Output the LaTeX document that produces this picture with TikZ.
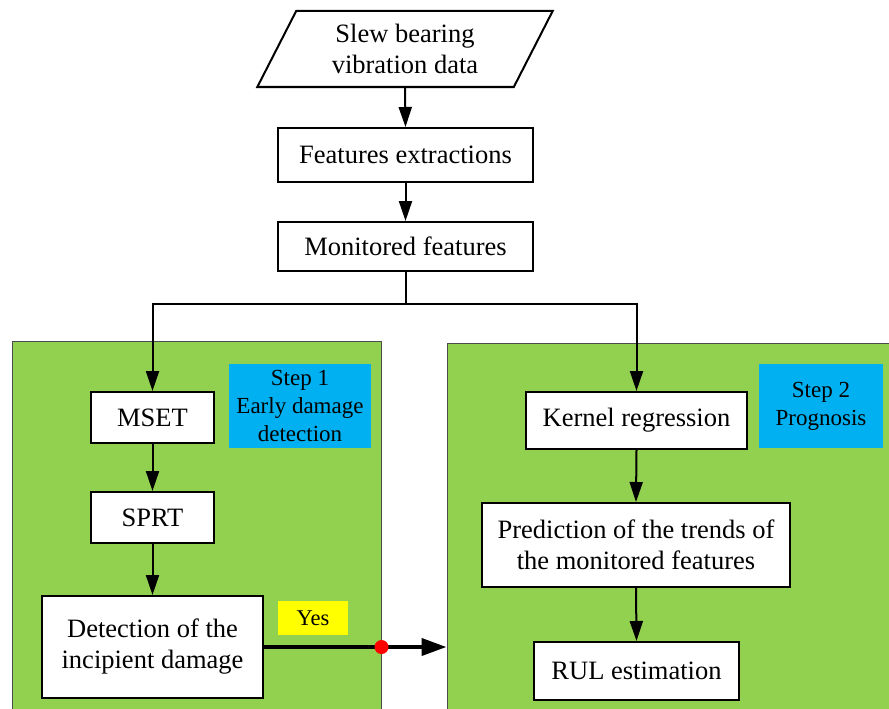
\documentclass[tikz,border=0pt]{standalone}
\usepackage{fontspec}
\setmainfont{Liberation Serif}
\newfontfamily\tnr{Liberation Serif}
\usetikzlibrary{arrows.meta,shapes.geometric,calc}
\definecolor{pgreen}{HTML}{92D050}
\definecolor{pblue}{HTML}{00B0F0}
\definecolor{pyellow}{HTML}{FFFF00}
\definecolor{pred}{HTML}{FF0000}
\begin{document}
\begin{tikzpicture}[x=1pt,y=-1pt,
  every node/.style={inner sep=0pt, align=center, font=\tnr\fontsize{26.5}{31}\selectfont},
  box/.style={draw=black, line width=2pt, fill=white, rectangle},
  panel/.style={draw=black!70, line width=1pt, fill=pgreen, rectangle},
  steplabel/.style={fill=pblue, rectangle, font=\tnr\fontsize{23}{28}\selectfont},
  yeslabel/.style={fill=pyellow, rectangle, font=\tnr\fontsize{22.5}{27}\selectfont},
  conn/.style={line width=2pt, -{Triangle[length=20pt,width=13pt]}},
  line/.style={line width=2pt},
  bigconn/.style={line width=4pt, -{Triangle[length=25pt,width=17pt]}}
]
\useasboundingbox (0,0) rectangle (889,709);

% panels
\node[panel, minimum width=369pt, minimum height=372pt] (lp) at (196.5,527) {};
\node[panel, minimum width=445pt, minimum height=370pt] (rp) at (669.5,528) {};

% top part
\node[trapezium, draw=black, line width=2pt, fill=white,
      trapezium left angle=62.2, trapezium right angle=117.8,
      trapezium stretches=true, minimum width=296pt, minimum height=76pt] (data) at (405,49)
      {Slew bearing\\vibration data};
\node[box, minimum width=255pt, minimum height=54pt] (fe) at (405.5,155) {Features extractions};
\node[box, minimum width=255pt, minimum height=49pt] (mf) at (405.5,246.5) {Monitored features};

% left column
\node[steplabel, minimum width=142pt, minimum height=84pt] (s1) at (300,406) {Step 1\\Early damage\\detection};
\node[box, minimum width=123pt, minimum height=51pt] (mset) at (152.5,417.5) {MSET};
\node[box, minimum width=123pt, minimum height=51pt] (sprt) at (152.5,517.5) {SPRT};
\node[box, minimum width=221pt, minimum height=102pt] (det) at (152.5,647) {Detection of the\\incipient damage};
\node[yeslabel, minimum width=70pt, minimum height=34pt] (yes) at (313,618) {Yes};

% right column
\node[steplabel, minimum width=124pt, minimum height=84pt] (s2) at (821,406) {Step 2\\Prognosis};
\node[box, minimum width=221pt, minimum height=57pt] (kr) at (636.5,420.5) {Kernel regression};
\node[box, minimum width=308pt, minimum height=84pt] (pr) at (636,545) {Prediction of the trends of\\the monitored features};
\node[box, minimum width=205pt, minimum height=58pt] (rul) at (636.5,671) {RUL estimation};

% connectors
\draw[conn] (data.south) -- (fe.north);
\draw[conn] (fe.south) -- (mf.north);
\coordinate (split) at ($(mf.south)+(0,32)$);
\draw[line] (mf.south) -- (split);
\draw[conn] (split) -| (mset.north);
\draw[conn] (split) -| (kr.north);
\draw[conn] (mset.south) -- (sprt.north);
\draw[conn] (sprt.south) -- (det.north);
\draw[conn] (kr.south) -- (pr.north);
\draw[conn] (pr.south) -- (rul.north);
\draw[bigconn] (det.east) -- (det.east -| rp.west);
\node[circle, fill=pred, minimum size=14pt] (dot) at (det.east -| lp.east) {};
\end{tikzpicture}
\end{document}
